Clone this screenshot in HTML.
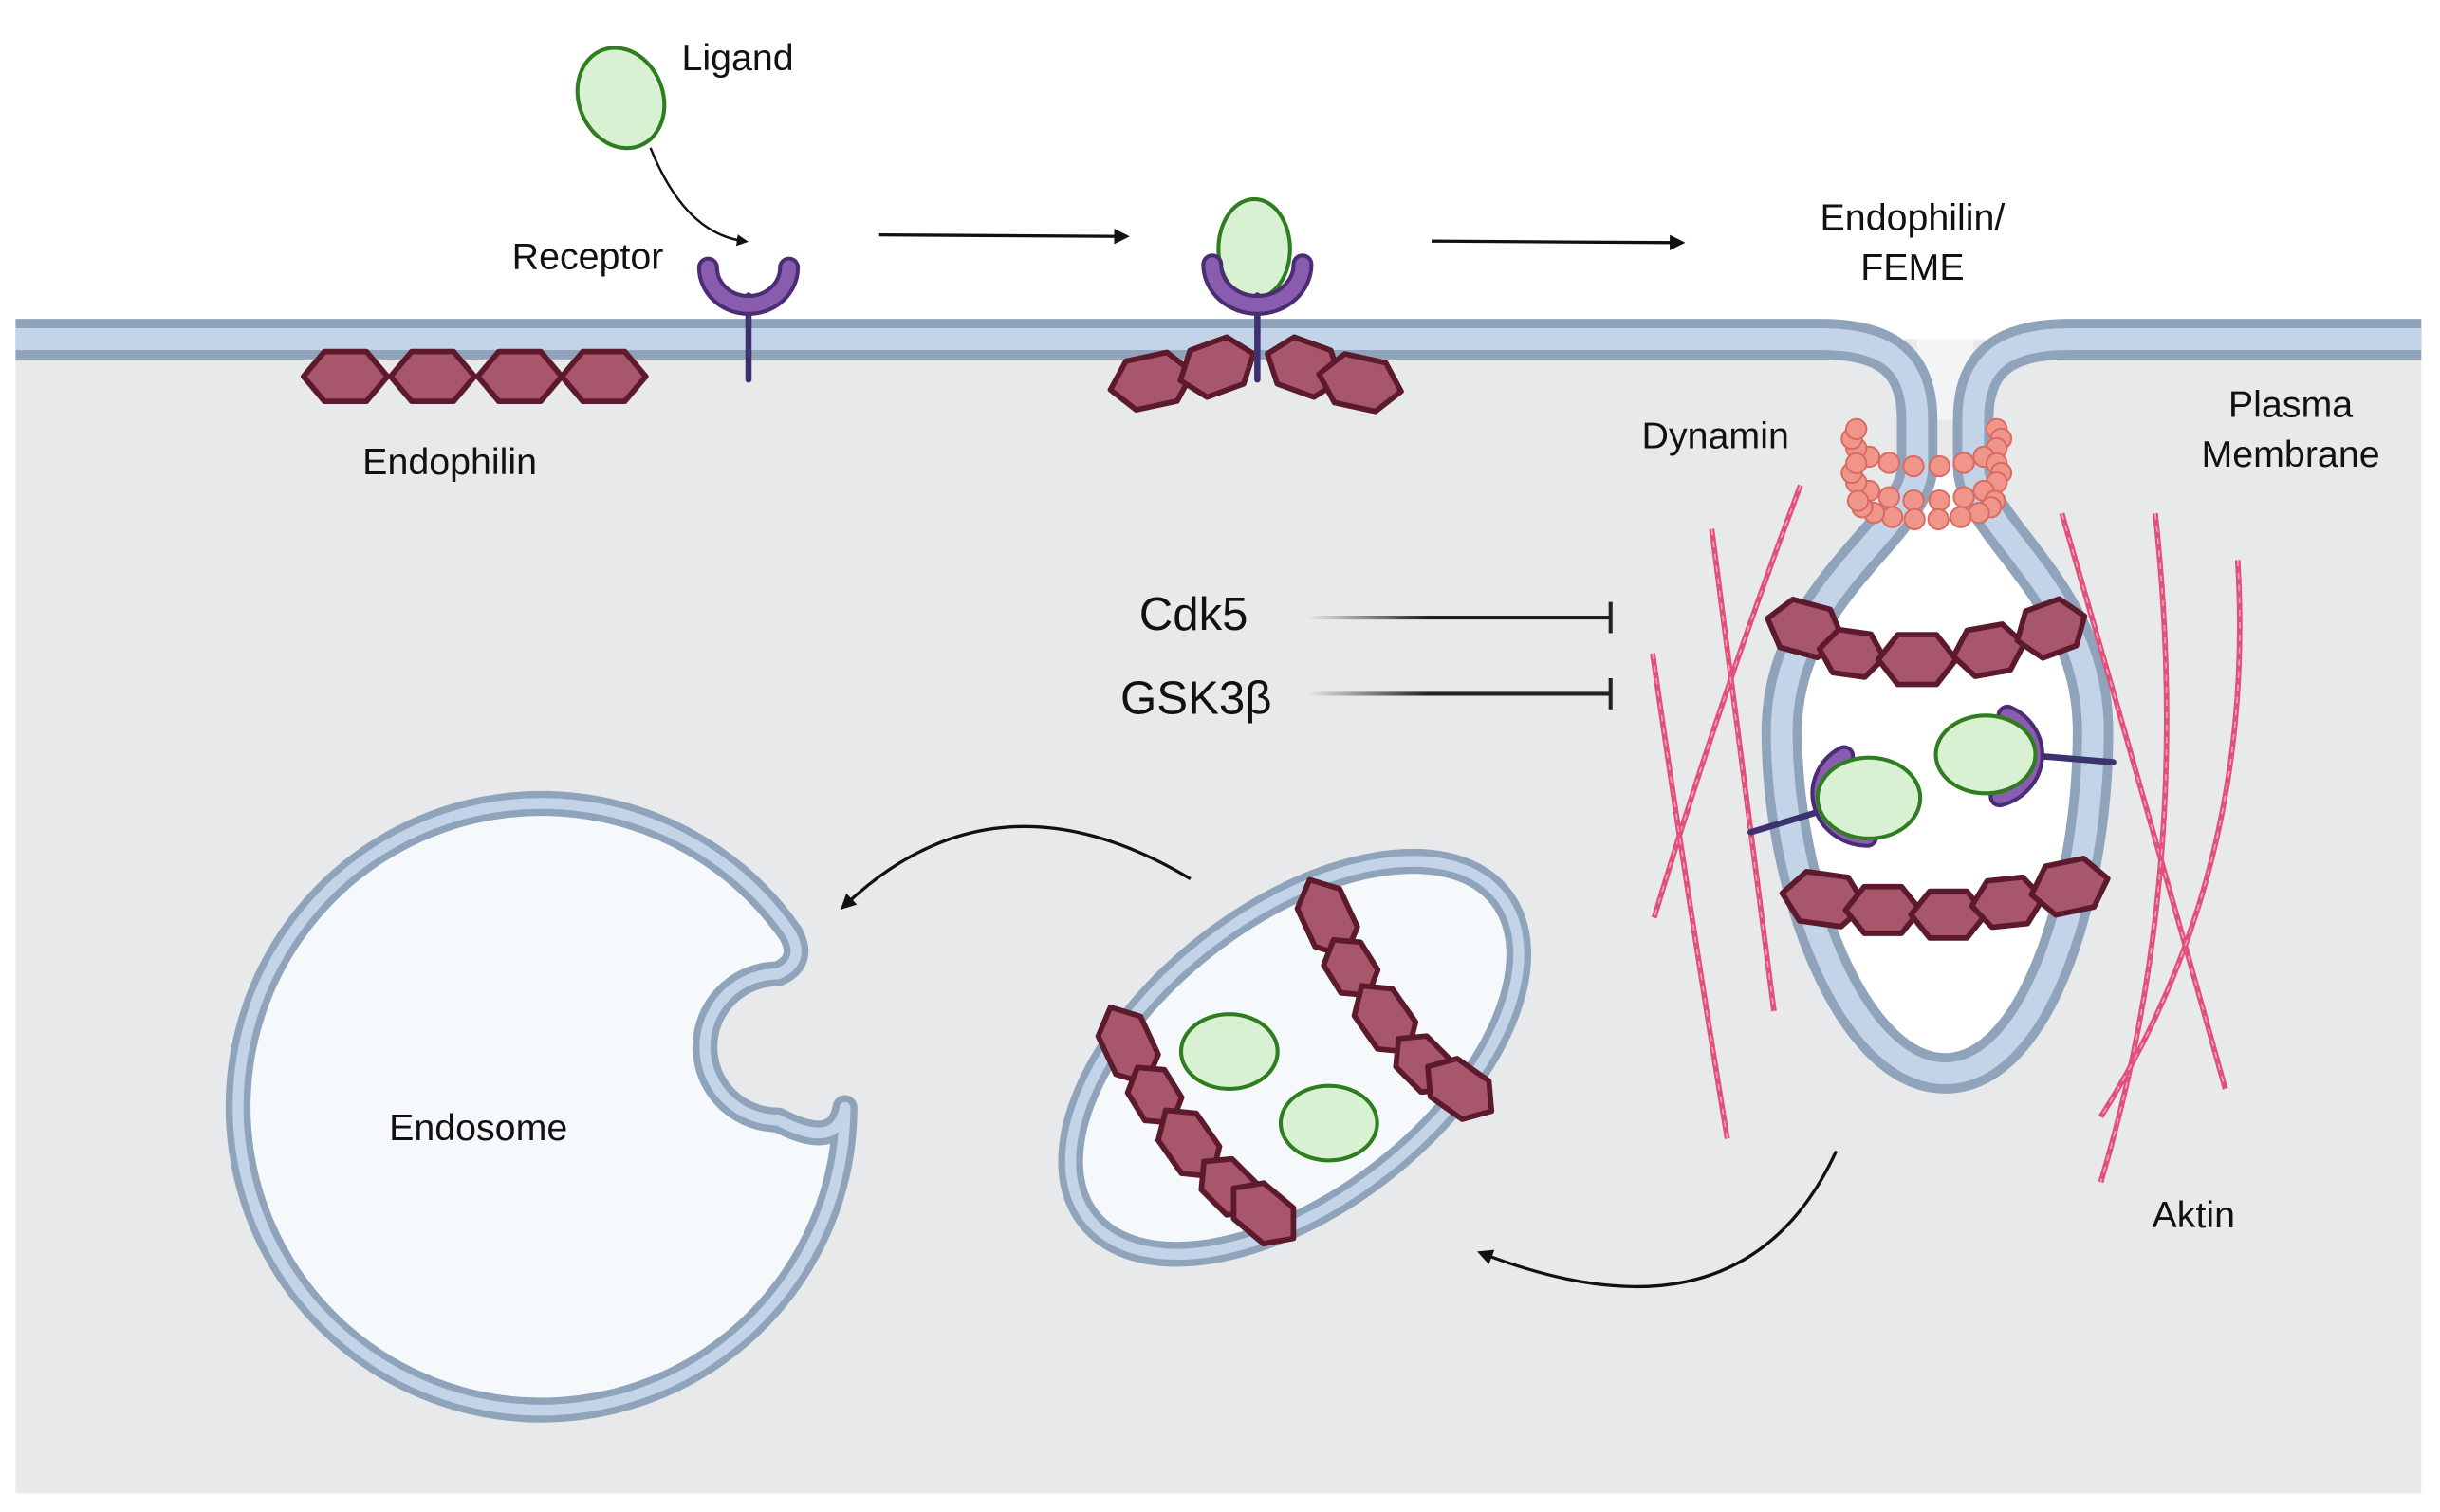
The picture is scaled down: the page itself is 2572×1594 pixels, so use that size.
<!DOCTYPE html>
<html><head><meta charset="utf-8"><style>
html,body{margin:0;padding:0;background:#fff;}
svg{display:block;}
text{font-family:"Liberation Sans",sans-serif;fill:#111;}
</style></head><body>
<svg id="s" width="2572" height="1594" viewBox="0 0 1568 972" preserveAspectRatio="none" xmlns="http://www.w3.org/2000/svg">
<defs>
<linearGradient id="fade1" gradientUnits="userSpaceOnUse" x1="840" y1="0" x2="1035" y2="0">
<stop offset="0" stop-color="#222" stop-opacity="0"/><stop offset="0.4" stop-color="#222" stop-opacity="1"/><stop offset="1" stop-color="#222"/>
</linearGradient>
<marker id="ah" viewBox="0 0 10 10" refX="6" refY="5" markerWidth="5" markerHeight="5" orient="auto"><path d="M0,0 L10,5 L0,10 Z" fill="#111"/></marker>
</defs>
<rect x="0" y="0" width="1568" height="972" fill="#fff"/>
<rect x="10" y="218" width="1546" height="742" fill="#e8e9eb"/>
<rect x="1232" y="210" width="36" height="60" fill="#f3f4f5"/>
<path d="M1232,300 C1232,340 1145,380 1145,470 C1145,570 1190,690 1250,690 C1310,690 1345,570 1345,470 C1345,380 1268,340 1268,300 Z" fill="#fff"/>
<rect x="10" y="150" width="1546" height="68" fill="#fff"/>
<g fill="none" stroke-linejoin="round">
<path d="M10,218 H1170 C1215,218 1232,235 1232,270 L1232,300 C1232,340 1145,380 1145,470 C1145,570 1190,690 1250,690 C1310,690 1345,570 1345,470 C1345,380 1268,340 1268,300 L1268,270 C1268,235 1285,218 1330,218 H1556" stroke="#8fa3ba" stroke-width="26"/>
<path d="M10,218 H1170 C1215,218 1232,235 1232,270 L1232,300 C1232,340 1145,380 1145,470 C1145,570 1190,690 1250,690 C1310,690 1345,570 1345,470 C1345,380 1268,340 1268,300 L1268,270 C1268,235 1285,218 1330,218 H1556" stroke="#c3d4e8" stroke-width="14"/>
</g>
<g stroke-linejoin="round">
<path d="M508,600 A195,195 0 1 0 543,712 Q538,740 500,720 A45,45 0 1 1 500,626 Q518,618 508,600 Z" fill="#f6f9fc" stroke="#8fa3ba" stroke-width="16"/>
<path d="M508,600 A195,195 0 1 0 543,712 Q538,740 500,720 A45,45 0 1 1 500,626 Q518,618 508,600 Z" fill="none" stroke="#c3d4e8" stroke-width="7"/>
</g>
<ellipse cx="832" cy="680" rx="168" ry="92" transform="rotate(-38 832 680)" fill="#f6f9fc" stroke="#8fa3ba" stroke-width="16"/>
<ellipse cx="832" cy="680" rx="168" ry="92" transform="rotate(-38 832 680)" fill="none" stroke="#c3d4e8" stroke-width="7"/>
<g id="actin" fill="none" stroke="#e0507a" stroke-width="3.5"></g>
<g id="hex"></g>
<g id="beads"></g>
<g fill="#d8f1d2" stroke="#2e7d1f" stroke-width="2.5">
<ellipse cx="399" cy="63" rx="27" ry="33" transform="rotate(-22 399 63)"/>
<ellipse cx="806" cy="160" rx="23" ry="32"/>
<ellipse cx="790" cy="676" rx="31" ry="24"/>
<ellipse cx="854" cy="722" rx="31" ry="24"/>
</g>
<g stroke-linecap="round">
<line x1="481" y1="190" x2="481" y2="244" stroke="#3c3270" stroke-width="4"/>
<path d="M455,172 A26,24 0 0 0 507,172" fill="none" stroke="#4b2d74" stroke-width="14"/>
<path d="M455,172 A26,24 0 0 0 507,172" fill="none" stroke="#8a5cb0" stroke-width="9"/>
<line x1="808" y1="190" x2="808" y2="244" stroke="#3c3270" stroke-width="4"/>
<path d="M779,170 A29,26 0 0 0 837,170" fill="none" stroke="#4b2d74" stroke-width="14"/>
<path d="M779,170 A29,26 0 0 0 837,170" fill="none" stroke="#8a5cb0" stroke-width="9"/>
<line x1="1125" y1="535" x2="1175" y2="520" stroke="#3c3270" stroke-width="4"/>
<path d="M1185,486 A30,28 0 0 0 1200,538" fill="none" stroke="#4b2d74" stroke-width="14"/>
<path d="M1185,486 A30,28 0 0 0 1200,538" fill="none" stroke="#8a5cb0" stroke-width="9"/>
<line x1="1310" y1="486" x2="1358" y2="490" stroke="#3c3270" stroke-width="4"/>
<path d="M1290,460 A30,28 0 0 1 1285,512" fill="none" stroke="#4b2d74" stroke-width="14"/>
<path d="M1290,460 A30,28 0 0 1 1285,512" fill="none" stroke="#8a5cb0" stroke-width="9"/>
</g>
<g fill="#d8f1d2" stroke="#2e7d1f" stroke-width="2.5">
<ellipse cx="1201" cy="513" rx="33" ry="26"/>
<ellipse cx="1276" cy="485" rx="32" ry="25"/>
</g>
<g fill="none" stroke="#111" stroke-width="2">
<line x1="565" y1="151" x2="722" y2="152" marker-end="url(#ah)"/>
<line x1="920" y1="155" x2="1079" y2="156" marker-end="url(#ah)"/>
<path d="M418,95 Q440,150 478,155" stroke-width="1.5" marker-end="url(#ah)"/>
<path d="M765,565 Q640,490 543,582" marker-end="url(#ah)"/>
<path d="M1180,740 Q1120,870 953,806" marker-end="url(#ah)"/>
</g>
<g stroke="url(#fade1)" stroke-width="2.5">
<line x1="840" y1="397" x2="1035" y2="397.01"/>
<line x1="840" y1="446" x2="1035" y2="446.01"/>
</g>
<g stroke="#222" stroke-width="2.5">
<line x1="1035" y1="387" x2="1035" y2="407"/>
<line x1="1035" y1="436" x2="1035" y2="456"/>
</g>
<g font-size="24">
<text x="438" y="45">Ligand</text>
<text x="329" y="173">Receptor</text>
<text x="233" y="305">Endophilin</text>
<text x="1229" y="148" text-anchor="middle">Endophilin/</text>
<text x="1229" y="180" text-anchor="middle">FEME</text>
<text x="1055" y="288">Dynamin</text>
<text x="1472" y="268" text-anchor="middle">Plasma</text>
<text x="1472" y="300" text-anchor="middle">Membrane</text>
<text x="250" y="733">Endosome</text>
<text x="1383" y="789">Aktin</text>
</g>
<g font-size="30">
<text x="732" y="405">Cdk5</text>
<text x="720" y="459">GSK3β</text>
</g>
</svg>
<script>
var NS="http://www.w3.org/2000/svg";
function el(p,t,a){var e=document.createElementNS(NS,t);for(var k in a)e.setAttribute(k,a[k]);document.getElementById(p).appendChild(e);return e;}
function hex(cx,cy,w,h,ang){
 var pts=[[-w/2,0],[-w/4,-h/2],[w/4,-h/2],[w/2,0],[w/4,h/2],[-w/4,h/2]];
 var a=ang*Math.PI/180,c=Math.cos(a),s=Math.sin(a);
 el("hex","polygon",{points:pts.map(function(p){return (cx+p[0]*c-p[1]*s).toFixed(1)+","+(cy+p[0]*s+p[1]*c).toFixed(1);}).join(" "),fill:"#a8566c",stroke:"#5c1a2c","stroke-width":"3.5","stroke-linejoin":"round"});
}
[[222,242,0],[278,242,0],[334,242,0],[388,242,0]].forEach(function(p){hex(p[0],p[1],54,32,p[2]);});
hex(740,245,54,32,-12);hex(782,236,50,32,-20);hex(838,236,50,32,20);hex(874,246,54,32,12);
[[1160,404,50,32,15],[1190,420,42,28,8],[1232,424,50,32,0],[1278,418,46,30,-10],[1318,404,46,32,-20]].forEach(function(p){hex.apply(null,p);});
[[1172,578,54,32,8],[1210,585,48,30,0],[1252,588,48,30,0],[1290,580,46,30,-6],[1330,570,50,32,-12]].forEach(function(p){hex.apply(null,p);});
[[725,672,54,30,65],[742,704,42,28,58],[764,735,52,30,55],[790,763,46,28,45],[812,780,50,30,40]].forEach(function(p){hex.apply(null,p);});
[[853,590,54,30,65],[868,622,42,28,58],[890,655,52,30,55],[915,684,46,28,45],[938,700,50,30,35]].forEach(function(p){hex.apply(null,p);});
[[1157,312,1105,450,1063,590],[1100,340,1120,500,1140,650],[1062,420,1085,580,1110,732],[1325,330,1380,520,1430,700],[1385,330,1410,560,1350,760],[1438,360,1450,560,1350,718]].forEach(function(l){
 var d="M"+l[0]+","+l[1]+" Q"+l[2]+","+l[3]+" "+l[4]+","+l[5];
 el("actin","path",{d:d});
 el("actin","path",{d:d,stroke:"#f4a0b8","stroke-width":"1","stroke-dasharray":"4 4"});
});
function ring(cx,cy,rx,ry,n,a0,a1){for(var i=0;i<n;i++){var t=(a0+(a1-a0)*i/(n-1))*Math.PI/180;el("beads","circle",{cx:cx+rx*Math.cos(t),cy:cy+ry*Math.sin(t),r:6.5,fill:"#f0958a",stroke:"#d86a60","stroke-width":"1.2"});}}
ring(1238,282,48,18,12,-20,200);
ring(1238,304,48,18,12,-20,200);
ring(1238,322,44,12,10,0,180);
</script>
</body></html>
